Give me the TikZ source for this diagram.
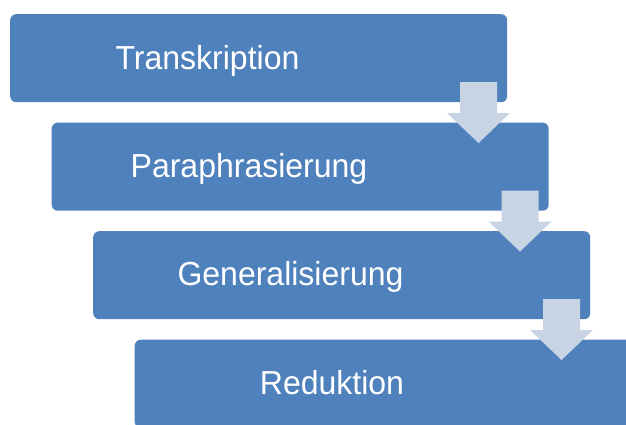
\documentclass[tikz,border=0pt]{standalone}
\usepackage{fontspec}
\setmainfont{Liberation Sans}
\definecolor{boxblue}{RGB}{79,129,189}
\definecolor{arrowgray}{RGB}{200,211,228}
\begin{document}
\begin{tikzpicture}[x=1pt,y=-1pt,
  stepbox/.style={draw=none,fill=boxblue,rounded corners=6pt,minimum width=497pt,minimum height=88pt,inner sep=0pt,anchor=north west},
  steptext/.style={text=white,font=\fontsize{32pt}{38pt}\selectfont,inner sep=0pt,anchor=base,yscale=1.04},
  downarrow/.style={fill=arrowgray,draw=none}]
\useasboundingbox (0,0) rectangle (626,424);
\clip (0,0) rectangle (626,424);
\node[stepbox] (b1) at (10,14) {};
\node[stepbox] (b2) at (51.5,122.5) {};
\node[stepbox] (b3) at (93,231) {};
\node[stepbox] (b4) at (134.5,339.5) {};
\node[steptext] (t1) at (207.5,69.5) {Transkription};
\node[steptext] (t2) at (249,177) {Paraphrasierung};
\node[steptext] (t3) at (290.5,285.5) {Generalisierung};
\node[steptext] (t4) at (332,394) {Reduktion};
\foreach \i/\dx/\dy in {1/0/0,2/41.5/108.5,3/83/217}{
  \fill[downarrow,shift={(\dx,\dy)}] (460,82) -- (497,82) -- (497,113) -- (510,113) -- (478.5,143) -- (447,113) -- (460,113) -- cycle;
}
\end{tikzpicture}
\end{document}
